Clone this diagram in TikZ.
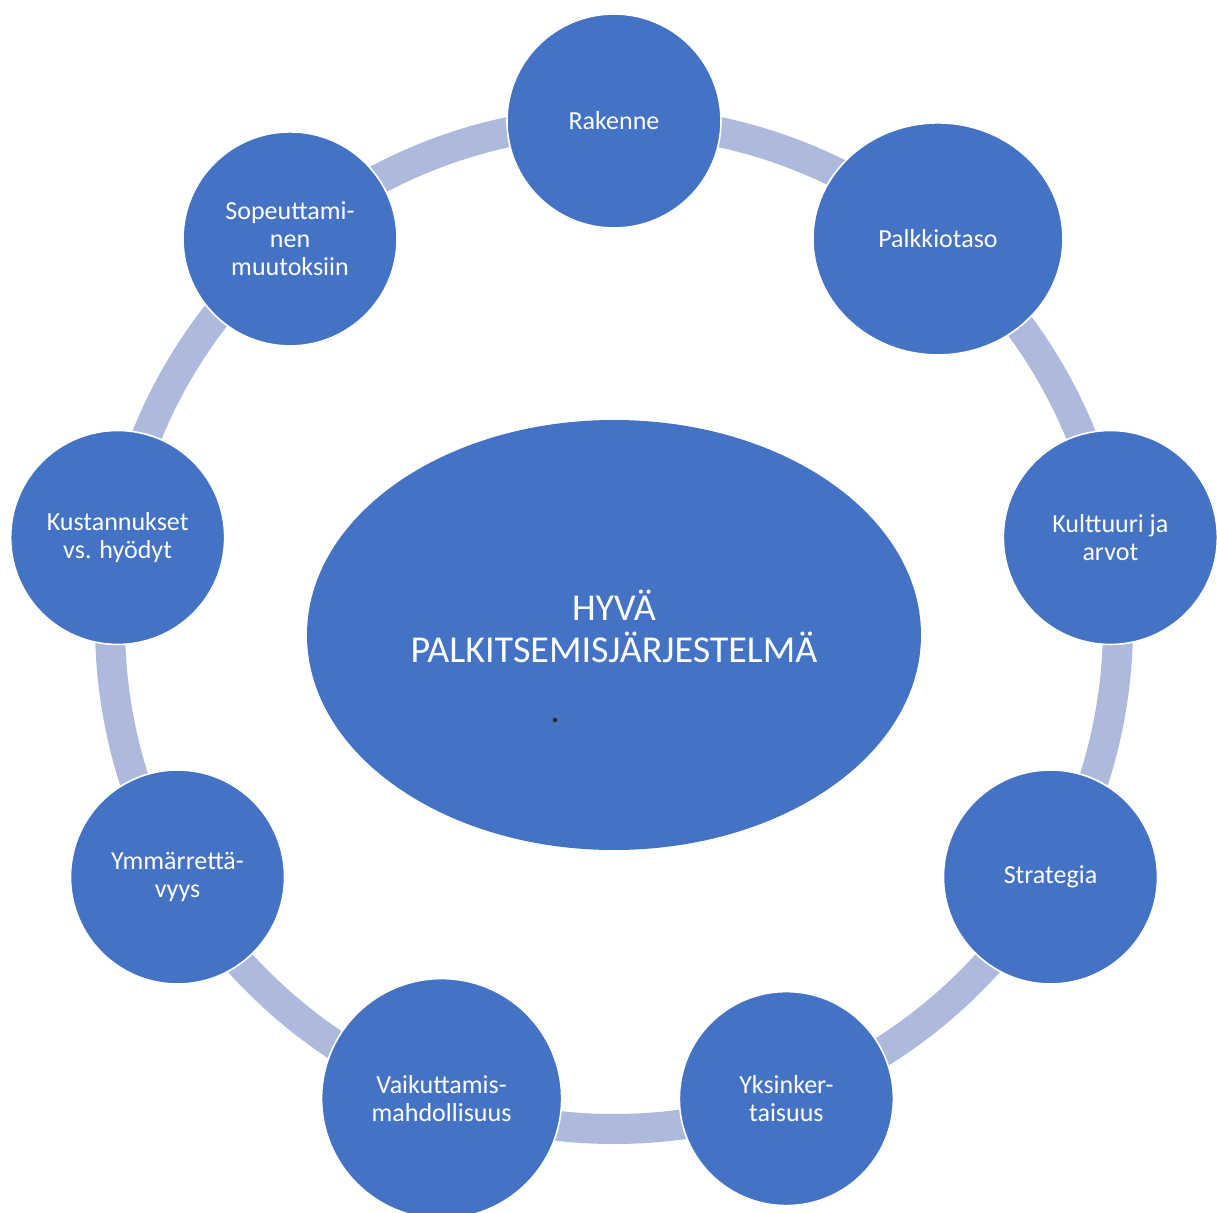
\documentclass[tikz,border=0pt]{standalone}
\usepackage{fontspec}
\setmainfont{Carlito}
\usetikzlibrary{shapes.geometric,calc}
\definecolor{discblue}{HTML}{4472C4}
\definecolor{ringblue}{HTML}{AEBADD}

\begin{document}
\begin{tikzpicture}[x=0.5pt, y=0.5pt,
  disc/.style={circle, fill=discblue, draw=white, line width=0.8pt, inner sep=0pt,
    minimum size=107pt, align=center, text=white, font=\fontsize{13}{14}\selectfont},
  ring/.style={draw=ringblue, line width=15pt}]
\useasboundingbox (0,0) rectangle (1217,1212);
\coordinate (c) at (614,587);
% band through the nine discs
\draw[ring] (c) circle[radius=504];
\node[ellipse, fill=discblue, inner sep=0pt, minimum width=307pt, minimum height=215pt] (core) at (614,577) {};
\node[align=center, text=white, font=\fontsize{19}{21}\selectfont] (title) at (614,586) {HYVÄ\\PALKITSEMISJÄRJESTELMÄ};
\node[circle, fill=black!85, inner sep=0pt, minimum size=2.2pt] (dot) at (555,492) {};
\node[disc] (rak) at ($(c)+(90:504)$) {Rakenne};
\node[disc, ellipse, minimum width=125pt, minimum height=116pt] (palk) at ($(c)+(50:504)$) {Palkkiotaso};
\node[disc] (kult) at ($(c)+(10:504)$) {Kulttuuri ja\\arvot};
\node[disc] (strat) at ($(c)+(-30:504)$) {Strategia};
\node[disc] (yks) at ($(c)+(-70:504)$) {Yksinker-\\taisuus};
\node[disc, minimum size=120pt] (vaik) at ($(c)+(-110:504)$) {Vaikuttamis-\\mahdollisuus};
\node[disc] (ymm) at ($(c)+(-150:504)$) {Ymmärrettä-\\vyys};
\node[disc] (kust) at ($(c)+(170:504)$) {Kustannukset\\vs. hyödyt};
\node[disc] (sop) at ($(c)+(130:504)$) {Sopeuttami-\\nen\\muutoksiin};
\end{tikzpicture}
\end{document}
